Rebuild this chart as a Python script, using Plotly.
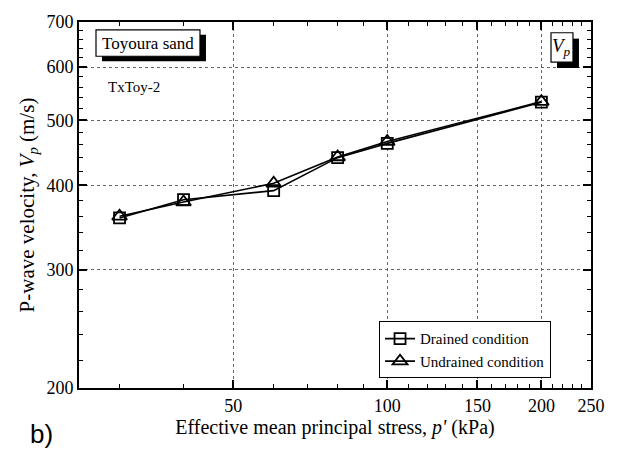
import plotly.graph_objects as go

# Data
pressure = [30, 40, 60, 80, 100, 200]
vp_drained = [358, 381, 393, 440, 462, 532]
vp_undrained = [360, 378, 403, 441, 465, 533]

x_ticks = [50, 100, 150, 200, 250]
y_ticks = [200, 300, 400, 500, 600, 700]
x_minor = [30, 40, 60, 70, 80, 90, 110, 120, 130, 140, 160, 170, 180, 190, 210, 220, 230, 240]
y_minor = [220, 240, 260, 280, 320, 340, 360, 380, 420, 440, 460, 480, 520, 540, 560, 580, 620, 640, 660, 680]

FONT = "Liberation Serif"

fig = go.Figure()
fig.add_trace(go.Scatter(
    x=pressure, y=vp_drained, mode="lines+markers", name="Drained condition",
    line=dict(color="black", width=1.6),
    marker=dict(symbol="square-open", size=11, color="black", line=dict(width=1.8)),
))
fig.add_trace(go.Scatter(
    x=pressure, y=vp_undrained, mode="lines+markers", name="Undrained condition",
    line=dict(color="black", width=1.6),
    marker=dict(symbol="triangle-up-open", size=13, color="black", line=dict(width=1.8)),
))

axis_common = dict(
    showline=True, linecolor="black", linewidth=2, mirror="ticks",
    ticks="inside", ticklen=8, tickwidth=1.5, tickcolor="black",
    showgrid=True, gridcolor="#666666", griddash="dot", gridwidth=1,
    zeroline=False,
    tickfont=dict(family=FONT, size=18, color="black"),
)

fig.update_xaxes(
    type="log", range=[1.39794, 2.39794],
    tickvals=x_ticks, ticktext=[str(v) for v in x_ticks],
    minor=dict(tickvals=x_minor, ticks="inside", ticklen=4, tickcolor="black", tickwidth=1.2, showgrid=False),
    title=dict(text="Effective mean principal stress, <i>p'</i> (kPa)",
               font=dict(family=FONT, size=20, color="black"), standoff=4),
    **axis_common,
)
fig.update_yaxes(
    type="log", range=[2.30103, 2.845098],
    tickvals=y_ticks, ticktext=[str(v) for v in y_ticks],
    minor=dict(tickvals=y_minor, ticks="inside", ticklen=4, tickcolor="black", tickwidth=1.2, showgrid=False),
    title=dict(text="P-wave velocity, <i>V</i><sub><i>p</i></sub> (m/s)",
               font=dict(family=FONT, size=21, color="black"), standoff=6),
    **axis_common,
)

shapes = []
# Toyoura sand box with shadow
shapes.append(dict(type="rect", xref="paper", yref="paper", x0=0.0449, x1=0.2480, y0=0.8930, y1=0.9653,
                   fillcolor="black", line=dict(width=0), layer="above"))
shapes.append(dict(type="rect", xref="paper", yref="paper", x0=0.0332, x1=0.2363, y0=0.9064, y1=0.9786,
                   fillcolor="white", line=dict(color="black", width=1.2), layer="above"))
# Vp box with shadow
shapes.append(dict(type="rect", xref="paper", yref="paper", x0=0.9336, x1=0.9765, y0=0.8743, y1=0.9545,
                   fillcolor="black", line=dict(width=0), layer="above"))
shapes.append(dict(type="rect", xref="paper", yref="paper", x0=0.9219, x1=0.9648, y0=0.8904, y1=0.9706,
                   fillcolor="white", line=dict(color="black", width=1.2), layer="above"))

annotations = [
    dict(text="Toyoura sand", xref="paper", yref="paper", x=0.1348, y=0.9425, showarrow=False,
         font=dict(family=FONT, size=17, color="black"), xanchor="center", yanchor="middle"),
    dict(text="<i>V</i><sub><i>p</i></sub>", xref="paper", yref="paper", x=0.9433, y=0.9305, showarrow=False,
         font=dict(family=FONT, size=19, color="black"), xanchor="center", yanchor="middle"),
    dict(text="TxToy-2", xref="paper", yref="paper", x=0.053, y=0.823, showarrow=False,
         font=dict(family=FONT, size=15, color="black"), xanchor="left", yanchor="middle"),
    dict(text="b)", xref="paper", yref="paper", x=-0.074, y=-0.126, showarrow=False,
         font=dict(family="Liberation Sans", size=26, color="black"), xanchor="center", yanchor="middle"),
]

fig.update_layout(
    width=617, height=450,
    margin=dict(l=79, r=26, t=14, b=62),
    paper_bgcolor="white", plot_bgcolor="white",
    shapes=shapes, annotations=annotations,
    showlegend=True,
    legend=dict(x=0.586, y=0.182, xanchor="left", yanchor="top",
                bgcolor="white", bordercolor="black", borderwidth=1,
                font=dict(family=FONT, size=15, color="black"),
                tracegroupgap=0, itemwidth=30),
)

fig.write_html("out.html")
